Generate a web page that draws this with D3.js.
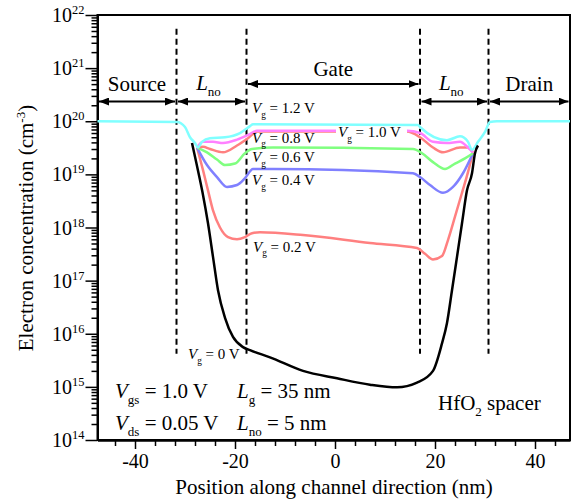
<!DOCTYPE html>
<html lang="en">
<head>
<meta charset="utf-8">
<title>Electron concentration along channel</title>
<script src="https://d3js.org/d3.v7.min.js"></script>
<style>
  body { margin: 0; background: #fff; }
  svg text { font-family: "Liberation Serif", "Times New Roman", serif; fill: #000; }
</style>
</head>
<body>
<div id="chart"></div>
<script>
var width = 573, height = 501;

// position along channel (nm) / electron concentration (cm^-3), one pair per gate voltage
var xVg12 = [-47.5, -31.6, -30, -29, -28, -27.4, -26.6, -25, -22, -19, -17, -16.4, 16.6, 17, 22.4, 25, 26.6, 27.4, 28.6, 30, 31, 32.4, 47];
var nVg12 = [1.0e20, 9.7e19, 7.8e19, 5.0e19, 3.9e19, 3.2e19, 4.1e19, 4.8e19, 5.0e19, 6.0e19, 8.1e19, 8.8e19, 8.5e19, 7.8e19, 4.4e19, 5.2e19, 4.1e19, 2.9e19, 4.1e19, 6.3e19, 9.7e19, 1.0e20, 1.0e20];

var xVg10 = [-27.6, -26.4, -24.4, -22.4, -19.6, -17.4, -15.6, 14.4, 17, 19.6, 22.4, 25, 26.6, 27.6];
var nVg10 = [3.2e19, 4.1e19, 4.1e19, 3.9e19, 4.5e19, 5.5e19, 6.6e19, 6.6e19, 6.0e19, 4.1e19, 3.9e19, 4.1e19, 3.2e19, 2.6e19];

var xVg08 = [-27.6, -26.4, -25, -22.4, -19.6, -17.4, -15.6, 14.4, 17, 19.6, 21.6, 25, 26.6, 27.6];
var nVg08 = [3.2e19, 3.3e19, 3.0e19, 2.6e19, 3.5e19, 4.8e19, 6.4e19, 6.4e19, 5.0e19, 3.2e19, 2.6e19, 3.2e19, 3.2e19, 2.6e19];

var xVg06 = [-27.6, -25.6, -23.6, -22, -20, -18, -16.6, -12.4, 15.6, 17.4, 19.6, 22, 24, 26, 27.6];
var nVg06 = [3.2e19, 2.6e19, 1.9e19, 1.5e19, 1.6e19, 2.5e19, 3.0e19, 3.2e19, 3.0e19, 2.5e19, 1.7e19, 1.26e19, 1.6e19, 2.0e19, 2.5e19];

var xVg04 = [-27.6, -25.6, -23.6, -21.6, -19.6, -18, -16.4, -12.4, 15.6, 17, 19, 21.6, 23.6, 25.6, 27.6];
var nVg04 = [3.2e19, 1.5e19, 8.9e18, 5.8e18, 6.3e18, 8.5e18, 1.26e19, 1.26e19, 1.05e19, 8.9e18, 6.3e18, 4.5e18, 5.8e18, 1.05e19, 2.5e19];

var xVg02 = [-27.6, -26.4, -25.4, -24.4, -23, -21.4, -19.6, -18, -16.6, -15, -6.4, 7, 16.4, 18, 19.6, 21.4, 22.6, 24, 25.4, 26.6, 27.6];
var nVg02 = [3.2e19, 1.2e19, 5.0e18, 2.1e18, 1.0e18, 6.6e17, 6.0e17, 6.6e17, 7.8e17, 8.1e17, 7.2e17, 5.1e17, 4.1e17, 3.2e17, 2.5e17, 2.9e17, 5.8e17, 1.6e18, 4.5e18, 1.1e19, 2.6e19];

var xVg00 = [-28.6, -27, -26.4, -25.4, -24.4, -23.4, -22, -20.4, -18.4, -17, -13, -6.4, 0.4, 7, 12.4, 16.4, 19.6, 21.4, 22.4, 23.4, 24.4, 25.4, 26.4, 27.4, 28, 28.6];
var nVg00 = [3.9e19, 7.8e18, 4.1e18, 1.2e18, 2.8e17, 6.6e16, 2.0e16, 8.7e15, 5.6e15, 4.9e15, 3.6e15, 2.0e15, 1.45e15, 1.1e15, 9.8e14, 1.2e15, 2.0e15, 6.6e15, 1.6e16, 6.6e16, 2.8e17, 1.2e18, 5.0e18, 1.05e19, 2.5e19, 3.5e19];

// device regions (nm)
var edges = [-47.5, -31.7, -17.7, 17, 30.7, 47];
var regionNames = ["Source", "Lno", "Gate", "Lno", "Drain"];

var xTicks = [-40, -20, 0, 20, 40];
var xMinor = [-44, -36, -32, -28, -24, -16, -12, -8, -4, 4, 8, 12, 16, 24, 28, 32, 36, 44];
var yDecades = [14, 15, 16, 17, 18, 19, 20, 21, 22];

var svg = d3.select("#chart").append("svg")
    .attr("width", width)
    .attr("height", height);

var x = d3.scaleLinear().domain([-47.5, 47]).range([97.5, 570]);
var y = d3.scaleLog().domain([1e14, 1e22]).range([440, 15]);

// rich text helper: parts = [text, style] where style is "i", "sub", "sup" or ""
function rich(g, px, py, parts, size, anchor) {
  var t = g.append("text")
      .attr("x", px).attr("y", py)
      .attr("font-size", size)
      .attr("text-anchor", anchor || "start");
  var shift = 0;
  parts.forEach(function(p) {
    var s = t.append("tspan").text(p[0]);
    var want = 0;
    if (p[1] == "sub") { want = size * 0.3; s.attr("font-size", size * 0.62); }
    else if (p[1] == "sup") { want = -size * 0.4; s.attr("font-size", size * 0.62); }
    else if (p[1] == "i") { s.attr("font-style", "italic"); }
    s.attr("dy", want - shift);
    shift = want;
  });
  return t;
}

// frame
svg.append("rect")
    .attr("x", x(-47.5)).attr("y", y(1e22))
    .attr("width", x(47) - x(-47.5)).attr("height", y(1e14) - y(1e22))
    .attr("fill", "none").attr("stroke", "#000").attr("stroke-width", 2);

// x axis
var gx = svg.append("g").attr("transform", "translate(0," + y(1e14) + ")");
gx.call(d3.axisBottom(x).tickValues(xTicks).tickSize(9).tickSizeOuter(0).tickPadding(5)
    .tickFormat(function(d) { return String(d); }));
gx.append("g").call(d3.axisBottom(x).tickValues(xMinor).tickSize(6).tickSizeOuter(0).tickFormat(""));
gx.selectAll("text").attr("font-size", 20).attr("fill", "#000");

// y axis
var yMinor = [];
for (var e = 14; e < 22; e++) for (var m = 2; m < 10; m++) yMinor.push(m * Math.pow(10, e));
var gy = svg.append("g").attr("transform", "translate(" + x(-47.5) + ",0)");
gy.call(d3.axisLeft(y).tickValues(yDecades.map(function(d) { return Math.pow(10, d); }))
    .tickSize(12).tickSizeOuter(0).tickFormat(""));
gy.append("g").call(d3.axisLeft(y).tickValues(yMinor).tickSize(6).tickSizeOuter(0).tickFormat(""));
yDecades.forEach(function(d) {
  rich(gy, -13, y(Math.pow(10, d)) + 7, [["10", ""], [String(d), "sup"]], 20, "end");
});

svg.selectAll(".domain").attr("stroke-width", 2);
svg.selectAll(".tick line").attr("stroke-width", 1.5);

// axis titles
svg.append("text")
    .attr("x", 334).attr("y", 494)
    .attr("text-anchor", "middle").attr("font-size", 21)
    .text("Position along channel direction (nm)");
var yt = rich(svg, 0, 0, [["Electron concentration (cm", ""], ["-3", "sup"], [")", ""]], 21, "middle");
yt.attr("transform", "translate(33,228) rotate(-90)");

// region boundaries
svg.selectAll(".edge")
    .data(edges.slice(1, 5))
  .enter().append("line")
    .attr("x1", function(d) { return x(d); }).attr("x2", function(d) { return x(d); })
    .attr("y1", y(5.5e21)).attr("y2", y(4.2e15))
    .attr("stroke", "#000").attr("stroke-width", 2)
    .attr("stroke-dasharray", "6,4");

// arrows
svg.append("defs").append("marker")
    .attr("id", "ah")
    .attr("viewBox", "0 0 10 8")
    .attr("refX", 10).attr("refY", 4)
    .attr("markerWidth", 10).attr("markerHeight", 8)
    .attr("markerUnits", "userSpaceOnUse")
    .attr("orient", "auto-start-reverse")
  .append("path").attr("d", "M0,0L10,4L0,8Z").attr("fill", "#000");

regionNames.forEach(function(name, i) {
  var ay = (name == "Gate") ? 84 : 101.5;
  var x0 = x(edges[i]) + 1.5, x1 = x(edges[i + 1]) - 1.5;
  svg.append("line")
      .attr("x1", x0).attr("x2", x1).attr("y1", ay).attr("y2", ay)
      .attr("stroke", "#000").attr("stroke-width", 2)
      .attr("marker-start", "url(#ah)").attr("marker-end", "url(#ah)");
  var cx = (x0 + x1) / 2;
  if (name == "Lno") rich(svg, cx - 3, ay - 12, [["L", "i"], ["no", "sub"]], 21, "middle");
  else rich(svg, cx, ay - (name == "Gate" ? 8 : 11), [[name, ""]], 21, "middle");
});

// curves
var line = d3.line()
    .x(function(d) { return x(d[0]); })
    .y(function(d) { return y(d[1]); })
    .curve(d3.curveMonotoneX);

var series = [
  [xVg02, nVg02, "#ff8080"],
  [xVg04, nVg04, "#8080ff"],
  [xVg06, nVg06, "#80ff80"],
  [xVg08, nVg08, "#ff8080"],
  [xVg10, nVg10, "#ff80ff"],
  [xVg12, nVg12, "#80ffff"],
  [xVg00, nVg00, "#000"]
];
series.forEach(function(s) {
  svg.append("path")
      .datum(d3.zip(s[0], s[1]))
      .attr("d", line)
      .attr("fill", "none")
      .attr("stroke", s[2])
      .attr("stroke-width", 2.5);
});

// curve labels
svg.append("rect")
    .attr("x", x(0.2)).attr("y", 127.5)
    .attr("width", x(14.4) - x(0.2)).attr("height", 14)
    .attr("fill", "#fff");
var vgLabels = [
  ["1.2", -16.6, 1.4e20],
  ["1.0", 0.6, 5.0e19],
  ["0.8", -16.6, 3.9e19],
  ["0.6", -16.6, 1.7e19],
  ["0.4", -16.6, 6.3e18],
  ["0.2", -16.4, 3.5e17],
  ["0", -29.4, 3.3e15]
];
vgLabels.forEach(function(l) {
  rich(svg, x(l[1]), y(l[2]), [["V", "i"], ["g", "sub"], [" = " + l[0] + " V", ""]], 15);
});

// parameters
rich(svg, 115, 398, [["V", "i"], ["gs", "sub"], [" = 1.0 V", ""]], 21);
rich(svg, 115, 430, [["V", "i"], ["ds", "sub"], [" = 0.05 V", ""]], 21);
rich(svg, 237, 398, [["L", "i"], ["g", "sub"], [" = 35 nm", ""]], 21);
rich(svg, 237, 430, [["L", "i"], ["no", "sub"], [" = 5 nm", ""]], 21);
rich(svg, 438, 410, [["HfO", ""], ["2", "sub"], [" spacer", ""]], 21);
</script>
</body>
</html>
